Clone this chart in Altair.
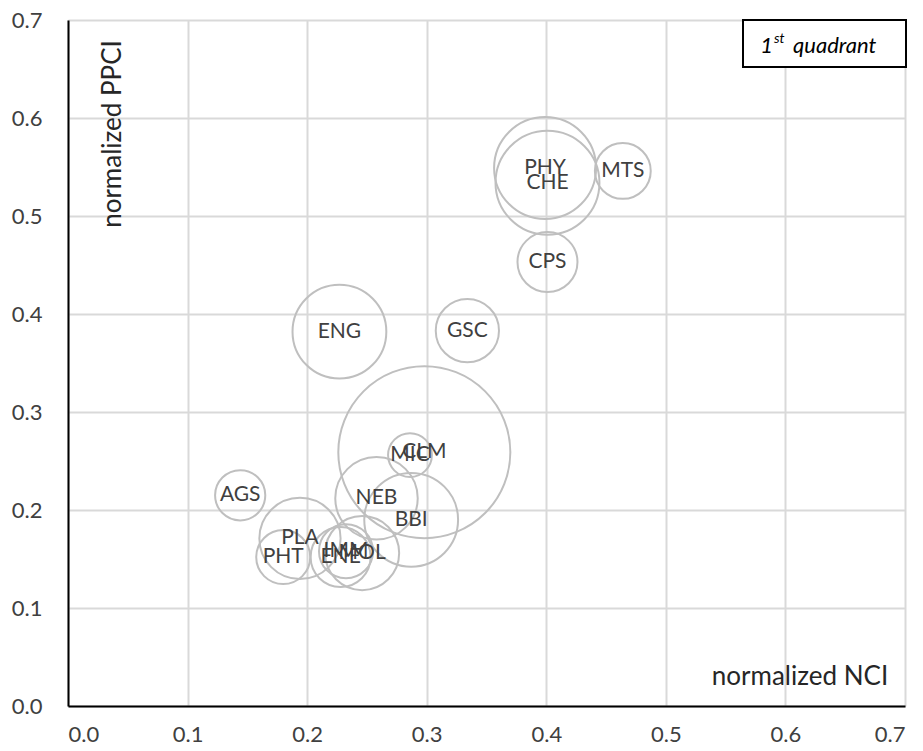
import altair as alt
import pandas as pd

labels = ["PHY", "CHE", "MTS", "CPS", "ENG", "GSC", "CLM", "MIC", "NEB", "BBI",
          "AGS", "PLA", "PHT", "IMM", "MOL", "ENE"]
nci = [0.399, 0.401, 0.464, 0.401, 0.227, 0.334, 0.298, 0.286, 0.258, 0.287,
       0.144, 0.194, 0.180, 0.2325, 0.246, 0.228]
ppci = [0.549, 0.534, 0.546, 0.453, 0.382, 0.383, 0.259, 0.256, 0.212, 0.190,
        0.215, 0.171, 0.152, 0.158, 0.156, 0.152]
bubble = [26.0, 27.0, 7.8, 9.0, 22.0, 10.0, 74.0, 4.8, 17.0, 22.0,
          6.3, 16.5, 7.3, 7.3, 13.7, 9.0]
tick_values = [0.0, 0.1, 0.2, 0.3, 0.4, 0.5, 0.6, 0.7]

df = pd.DataFrame({"label": labels, "x": nci, "y": ppci, "s": bubble})
one_row = pd.DataFrame({"k": [0]})

W, H = 837, 686
FONT = "Lato"

xscale = alt.Scale(domain=[0, 0.7], nice=False, zero=True)
yscale = alt.Scale(domain=[0, 0.7], nice=False, zero=True)

common_axis = dict(
    values=tick_values, format=".1f", grid=True, gridColor="#d9d9d9", gridWidth=2,
    domainColor="#000000", domainWidth=2, ticks=False, labelFont=FONT,
    labelFontSize=22, labelFontWeight="normal", labelColor="#404040", title=None,
)

xenc = alt.X("x:Q", scale=xscale, axis=alt.Axis(labelPadding=18, **common_axis))
yenc = alt.Y("y:Q", scale=yscale, axis=alt.Axis(labelPadding=26, **common_axis))

smax = max(bubble)
# Vega circle symbol: radius = sqrt(size)/2  ->  size = 4 r^2 ; bubble value = (r/10)^2
bubbles = alt.Chart(df).mark_point(
    shape="circle", filled=False, stroke="#bfbfbf", strokeWidth=2, opacity=1
).encode(
    x=xenc, y=yenc,
    size=alt.Size("s:Q", scale=alt.Scale(domain=[0, smax], range=[0, smax * 400]),
                  legend=None),
)

texts = alt.Chart(df).mark_text(font=FONT, fontSize=21, fontWeight="normal",
                                color="#404040").encode(
    x="x:Q", y="y:Q", text="label:N"
)

box = alt.Chart(one_row).mark_rect(fill="white", stroke="black", strokeWidth=2).encode(
    x=alt.value(675), x2=alt.value(838), y=alt.value(0), y2=alt.value(47)
)
one = alt.Chart(one_row).mark_text(text="1", font=FONT, fontSize=22, fontStyle="italic",
                                   align="right", baseline="alphabetic",
                                   color="#000000").encode(
    x=alt.value(705), y=alt.value(33))
st = alt.Chart(one_row).mark_text(text="st", font=FONT, fontSize=14, fontStyle="italic",
                                  align="left", baseline="alphabetic",
                                  color="#000000").encode(
    x=alt.value(706), y=alt.value(23))
quad = alt.Chart(one_row).mark_text(text="quadrant", font=FONT, fontSize=22, fontStyle="italic",
                                    align="left", baseline="alphabetic",
                                    color="#000000").encode(
    x=alt.value(725), y=alt.value(33))

ytitle = alt.Chart(one_row).mark_text(text="normalized PPCI", font=FONT, fontSize=26, angle=270,
                                      align="center", baseline="middle",
                                      color="#262626").encode(
    x=alt.value(45), y=alt.value(114))
xtitle = alt.Chart(one_row).mark_text(text="normalized NCI", font=FONT, fontSize=26,
                                      align="center", baseline="middle",
                                      color="#262626").encode(
    x=alt.value(732), y=alt.value(657))

chart = alt.layer(bubbles, texts, box, one, st, quad, ytitle, xtitle).properties(
    width=W, height=H,
    autosize=alt.AutoSizeParams(type="none"),
    padding={"left": 60, "top": 12, "right": 10, "bottom": 37},
    background="white",
).configure_view(stroke=None)

chart.save("out.html", embed_options={"renderer": "svg", "actions": False})
